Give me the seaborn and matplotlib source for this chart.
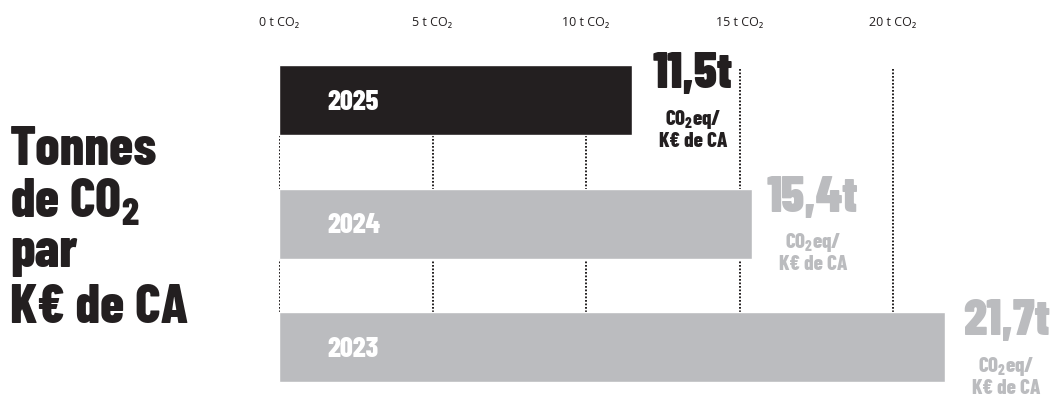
import matplotlib
matplotlib.use("Agg")
import matplotlib.pyplot as plt
import seaborn as sns

years = ["2025", "2024", "2023"]
tonnes = [11.5, 15.4, 21.7]
bar_colors = ["#231f20", "#bbbcbf", "#bbbcbf"]
tick_values = [0, 5, 10, 15, 20]
tick_labels = ["0 t CO₂", "5 t CO₂", "10 t CO₂", "15 t CO₂", "20 t CO₂"]
title_lines = ["Tonnes", "de CO$_2$", "par", "K€ de CA"]
unit_lines = ["CO$_2$eq/", "K€ de CA"]

sns.set_style("white")
cond = ["Barlow Condensed", "DejaVu Sans"]
plain = ["Open Sans", "DejaVu Sans"]
plt.rcParams["font.family"] = cond
plt.rcParams["mathtext.fontset"] = "custom"
for k in ("rm", "it", "bf"):
    plt.rcParams["mathtext." + k] = "Barlow Condensed:extrabold"
plt.rcParams["mathtext.default"] = "rm"

W, H = 1050, 405
fig = plt.figure(figsize=(W / 100, H / 100), dpi=100)
x0_px, top_px = 279, 40
px_per_t = 30.7
px_per_cat = 123.5
ax = fig.add_axes([x0_px / W, 0, 1 - x0_px / W, 1 - top_px / H])

# dotted guides behind the bars
bar_h = 70 / px_per_cat
ax.vlines(tick_values, -0.25, 2 - bar_h / 2, colors="#231f20",
          linestyles=(0, (0.9, 0.9)), linewidth=1.4, zorder=0.5)

sns.barplot(x=tonnes, y=years, hue=years, palette=bar_colors, orient="h",
            width=bar_h, saturation=1, legend=False, ax=ax, zorder=2)

ax.set_xlim(0, (W - x0_px) / px_per_t)
ax.set_ylim((H - 100) / px_per_cat, -(100 - top_px) / px_per_cat)
for s in ax.spines.values():
    s.set_visible(False)
ax.set_xlabel("")
ax.set_ylabel("")
ax.tick_params(left=False, labelleft=False)
ax.xaxis.tick_top()
ax.set_xticks(tick_values)
ax.set_xticklabels(tick_labels, family=plain, weight="normal", fontsize=9,
                   color="#231f20")
ax.tick_params(axis="x", length=0, pad=8)

for i, (yr, v, c) in enumerate(zip(years, tonnes, bar_colors)):
    ax.text(1.58, i + 0.02, yr, color="white", fontsize=20.5, weight=800,
            ha="left", va="center", zorder=3)
    big = f"{v:.1f}".replace(".", ",") + "t"
    ax.annotate(big, xy=(v, i), xytext=(44, 8.6), textcoords="offset points",
                ha="center", va="baseline", fontsize=36, weight=900,
                color=c, annotation_clip=False)
    for line, dy in zip(unit_lines, [-18, -33.8]):
        ax.annotate(line, xy=(v, i), xytext=(44, dy), textcoords="offset points",
                    ha="center", va="baseline", fontsize=15, weight=800,
                    color=c, annotation_clip=False)

for line, base in zip(title_lines, [165, 217, 267, 323]):
    fig.text(10 / W, 1 - base / H, line, fontsize=39, weight=800,
             color="#231f20", ha="left", va="baseline")

fig.savefig("out.png", dpi=100, facecolor="white")
